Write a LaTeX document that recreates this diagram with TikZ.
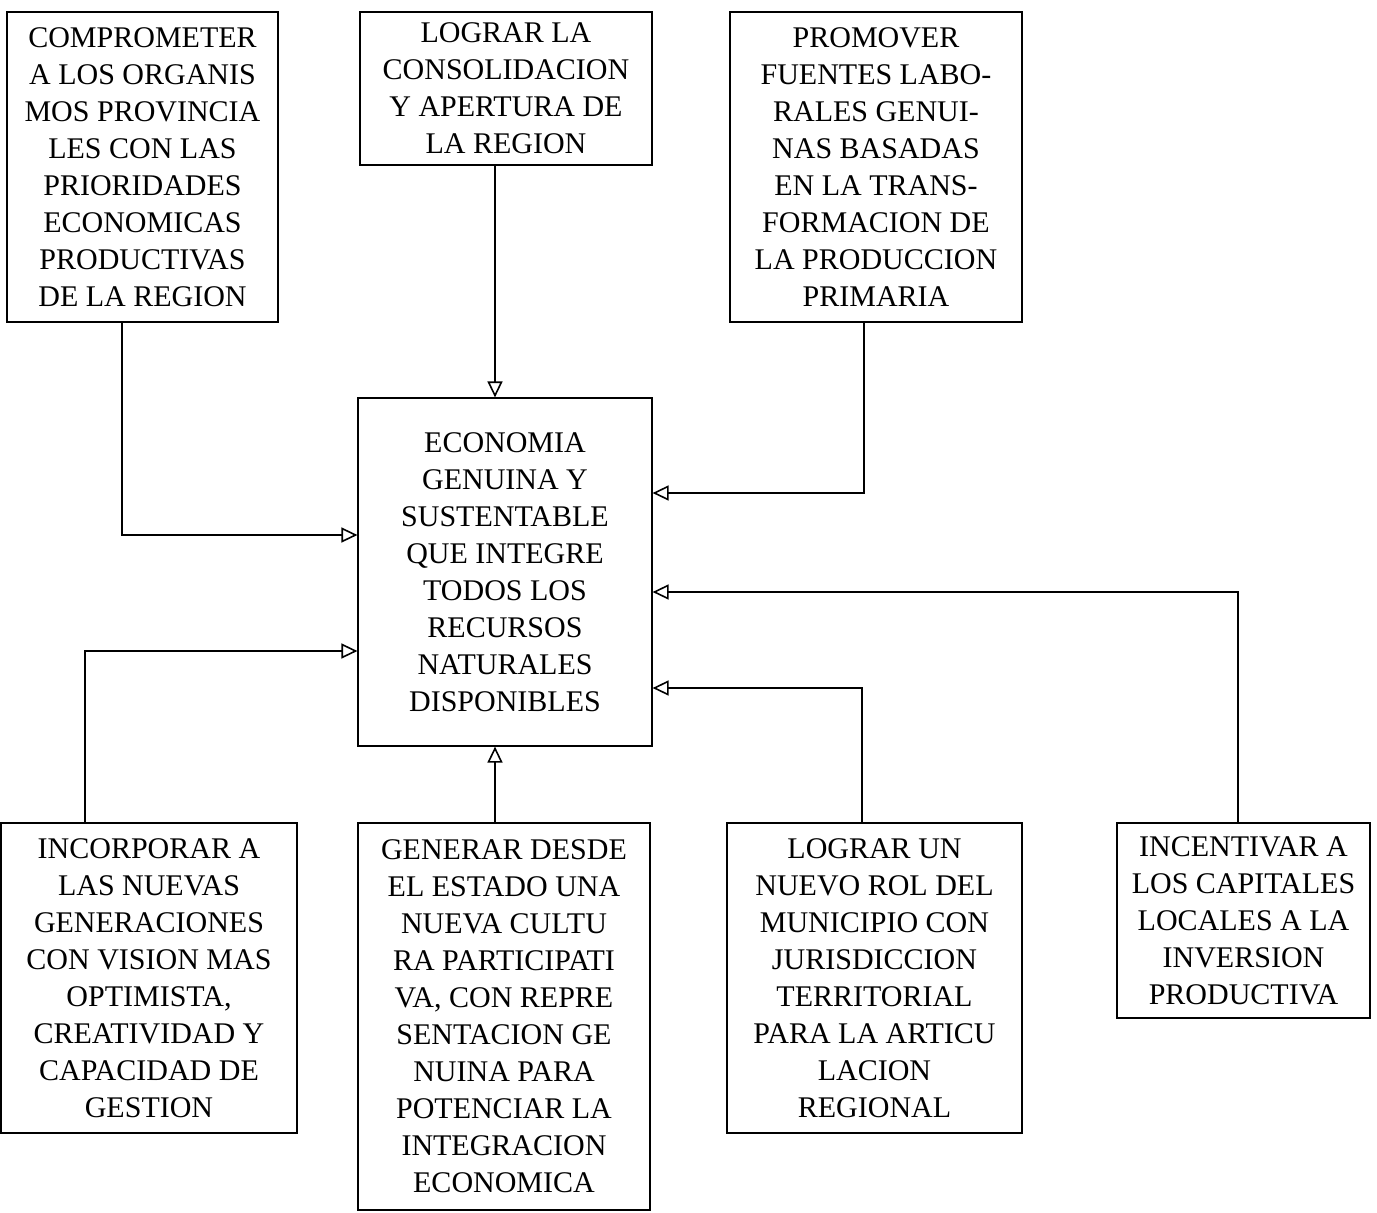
\documentclass[tikz,border=0pt]{standalone}
\usepackage{fontspec}
\setmainfont{Liberation Serif}
\usepackage{tikz}
\usetikzlibrary{arrows.meta}
\tikzstyle{objbox} = [rectangle, draw=black, line width=1.2pt, align=center, inner sep=0pt, font=\fontsize{30}{37}\selectfont]
\tikzstyle{arrow} = [line width=1.2pt, -{Triangle[open, length=16pt, width=15pt, line width=1.6pt]}]

\begin{document}
\begin{tikzpicture}[x=1pt, y=-1pt]
    \useasboundingbox (0,0) rectangle (1377,1213);
    \node (Comprometer) [objbox, minimum width=271pt, minimum height=310pt] at (142.5,167) {COMPROMETER\\A LOS ORGANIS\\MOS PROVINCIA\\LES CON LAS\\PRIORIDADES\\ECONOMICAS\\PRODUCTIVAS\\DE LA REGION};
    \node (Consolidacion) [objbox, minimum width=292pt, minimum height=153pt] at (506,88.5) {LOGRAR LA\\CONSOLIDACION\\Y APERTURA DE\\LA REGION};
    \node (Fuentes) [objbox, minimum width=292pt, minimum height=310pt] at (876,167) {PROMOVER\\FUENTES LABO-\\RALES GENUI-\\NAS BASADAS\\EN LA TRANS-\\FORMACION DE\\LA PRODUCCION\\PRIMARIA};
    \node (Economia) [objbox, minimum width=294pt, minimum height=348pt] at (505,572) {ECONOMIA\\GENUINA Y\\SUSTENTABLE\\QUE INTEGRE\\TODOS LOS\\RECURSOS\\NATURALES\\DISPONIBLES};
    \node (Generaciones) [objbox, minimum width=296pt, minimum height=310pt] at (149,978) {INCORPORAR A\\LAS NUEVAS\\GENERACIONES\\CON VISION MAS\\OPTIMISTA,\\CREATIVIDAD Y\\CAPACIDAD DE\\GESTION};
    \node (Cultura) [objbox, minimum width=292pt, minimum height=387pt] at (504,1016.5) {GENERAR DESDE\\EL ESTADO UNA\\NUEVA CULTU\\RA PARTICIPATI\\VA, CON REPRE\\SENTACION GE\\NUINA PARA\\POTENCIAR LA\\INTEGRACION\\ECONOMICA};
    \node (Municipio) [objbox, minimum width=295pt, minimum height=310pt] at (874.5,978) {LOGRAR UN\\NUEVO ROL DEL\\MUNICIPIO CON\\JURISDICCION\\TERRITORIAL\\PARA LA ARTICU\\LACION\\REGIONAL};
    \node (Capitales) [objbox, minimum width=253pt, minimum height=195pt] at (1243.5,920.5) {INCENTIVAR A\\LOS CAPITALES\\LOCALES A LA\\INVERSION\\PRODUCTIVA};
    \draw [arrow] ([xshift=-20.5pt]Comprometer.south) |- ([yshift=37pt]Economia.west);
    \draw [arrow] ([xshift=-11pt]Consolidacion.south) -- ([xshift=-11pt]Consolidacion.south |- Economia.north);
    \draw [arrow] ([xshift=-12pt]Fuentes.south) |- ([yshift=79pt]Economia.east);
    \draw [arrow] ([xshift=-5.5pt]Capitales.north) |- ([yshift=-20pt]Economia.east);
    \draw [arrow] ([xshift=-12.5pt]Municipio.north) |- ([yshift=-116pt]Economia.east);
    \draw [arrow] ([xshift=-64pt]Generaciones.north) |- ([yshift=-79pt]Economia.west);
    \draw [arrow] ([xshift=-9pt]Cultura.north) -- ([xshift=-9pt]Cultura.north |- Economia.south);
\end{tikzpicture}
\end{document}
